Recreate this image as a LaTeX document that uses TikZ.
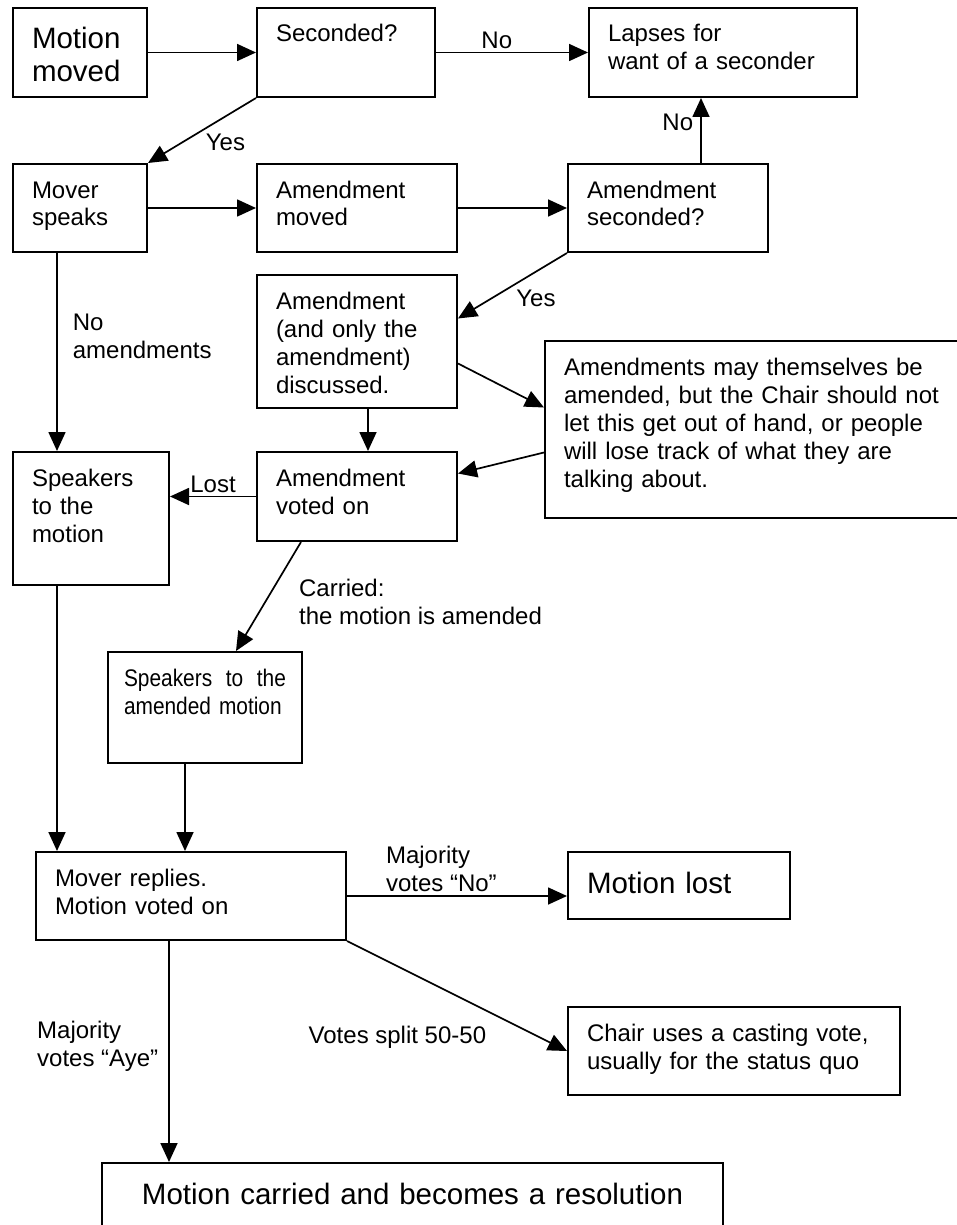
\documentclass[tikz,border=0pt]{standalone}
\usepackage{fontspec}
\setmainfont{Liberation Sans}
\usetikzlibrary{arrows.meta,positioning}
\tikzset{
  stepbox/.style={draw, line width=2pt, anchor=north west, align=left,
    inner xsep=19pt, inner ysep=17pt, text height=17pt,
    font={\fontsize{24pt}{28pt}\selectfont}},
  bigbox/.style={stepbox, text height=24pt,
    font={\fontsize{29.5pt}{33pt}\selectfont}},
  lbl/.style={inner sep=3pt, align=left, font={\fontsize{24pt}{28pt}\selectfont}},
  link/.style={line width=1.7pt, -{Triangle[length=19pt,width=17pt]}}
}

\begin{document}
\begin{tikzpicture}[x=1pt,y=-1pt]
  \useasboundingbox (0,0) rectangle (956,1225);
  % Define nodes
  \node[bigbox, text width=96pt, text depth=31pt] (moved) at (12,7) {Motion\\moved};
  \node[stepbox, text width=140pt, text depth=38pt] (seconded) at (256,7) {Seconded?};
  \node[stepbox, text width=230pt, text depth=38pt] (lapses) at (588,7) {Lapses for\\want of a seconder};
  \node[stepbox, text width=96pt, text depth=37pt] (speaks) at (12,163) {Mover\\speaks};
  \node[stepbox, text width=162pt, text depth=37pt] (amoved) at (256,163) {Amendment\\moved};
  \node[stepbox, text width=162pt, text depth=37pt] (asec) at (567,163) {Amendment\\seconded?};
  \node[stepbox, text width=162pt, text depth=82pt] (adisc) at (256,274) {Amendment\\(and only the\\amendment)\\discussed.};
  \node[stepbox, text width=400pt, text depth=126pt] (note) at (544,340) {Amendments may themselves be\\amended, but the Chair should not\\let this get out of hand, or people\\will lose track of what they are\\talking about.};
  \node[stepbox, text width=118pt, text depth=82pt] (spmot) at (12,451) {Speakers\\to the\\motion};
  \node[stepbox, text width=162pt, text depth=38pt] (avoted) at (256,451) {Amendment\\voted on};
  \node[stepbox, inner xsep=16pt, text width=162pt, text depth=60pt,
    font={\fontsize{24pt}{28pt}\selectfont\addfontfeature{FakeStretch=0.87}}] (spam) at (107,651) {Speakers\hfill to\hfill the\\\mbox{amended motion}};
  \node[stepbox, text width=272pt, text depth=37pt] (reply) at (35,851) {Mover replies.\\Motion voted on};
  \node[bigbox, text width=184pt, text depth=9pt] (lost) at (567,851) {Motion lost};
  \node[stepbox, text width=294pt, text depth=37pt] (chair) at (567,1006) {Chair uses a casting vote,\\usually for the status quo};
  \node[bigbox, align=center, text width=583pt, text depth=42pt] (carried) at (101,1162) {Motion carried and becomes a resolution};

  % Connect the nodes
  \draw[link] (moved.east) -- (seconded.west);
  \draw[link] (seconded.east) -- node[lbl, above, pos=0.4] {No} (lapses.west);
  \draw[link] (seconded.south west) -- node[lbl, below right] {Yes} (speaks.north east);
  \draw[link] (speaks.east) -- (amoved.west);
  \draw[link] (amoved.east) -- (asec.west);
  \draw[link] ([xshift=33pt]asec.north) -- node[lbl, left=4pt, pos=0.63] {No} ([xshift=33pt]asec.north |- lapses.south);
  \draw[link] (asec.south west) -- node[lbl, below right] {Yes} ([yshift=23pt]adisc.east);
  \draw[link] ([yshift=-22pt]adisc.east) -- ([yshift=22pt]note.west);
  \draw[link] ([yshift=-23pt]note.west) -- ([yshift=23pt]avoted.east);
  \draw[link] ([xshift=11pt]adisc.south) -- ([xshift=11pt]avoted.north);
  \draw[link] (avoted.west) -- node[lbl, above] {Lost} (avoted.west -| spmot.east);
  \draw[link] ([xshift=45pt]speaks.south west) -- node[lbl, right=12pt, pos=0.42] {No\\amendments} ([xshift=45pt]spmot.north west);
  \draw[link] ([xshift=-56pt]avoted.south) -- node[lbl, right=30pt, pos=0.55] {Carried:\\the motion is amended} ([xshift=31pt]spam.north);
  \draw[link] ([xshift=45pt]spmot.south west) -- ([xshift=22pt]reply.north west);
  \draw[link] ([xshift=-20pt]spam.south) -- ([xshift=-20pt]spam.south |- reply.north);
  \draw[link] (reply.east) -- node[lbl, anchor=south west, pos=0.16] {Majority\\votes “No”} (reply.east -| lost.west);
  \draw[link] (reply.south east) -- node[lbl, below left=10pt and 0pt, pos=0.65] {Votes split 50-50} (chair.west);
  \draw[link] ([xshift=-22pt]reply.south) -- node[lbl, left=7pt, pos=0.475] {Majority\\votes “Aye”} ([xshift=-22pt]reply.south |- carried.north);
\end{tikzpicture}
\end{document}
